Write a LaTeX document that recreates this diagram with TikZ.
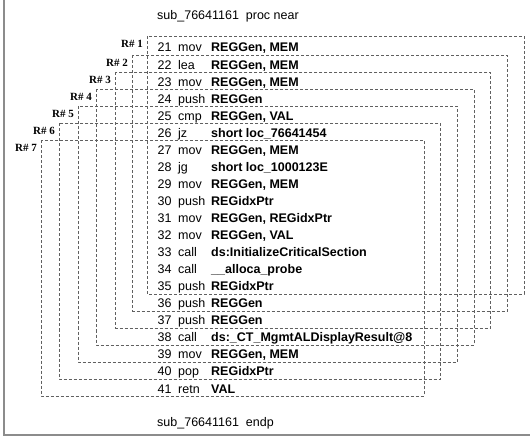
\documentclass[tikz,border=0pt]{standalone}
\usepackage{fontspec}
\setmainfont{Liberation Sans}
\newfontfamily\regfont{Liberation Serif}
\usetikzlibrary{calc}

\definecolor{framegray}{HTML}{8C8C8C}
\definecolor{dashgray}{HTML}{606060}

\tikzset{
    regbox/.style={
        draw=dashgray, line width=0.8pt,
        dash pattern=on 3pt off 2pt
    },
    reglabel/.style={
        font=\regfont\bfseries\fontsize{11}{12}\selectfont,
        inner sep=0pt, anchor=base east
    },
    asmline/.style={
        font=\fontsize{12.5}{15}\selectfont,
        inner sep=0pt, anchor=base west
    },
    frameline/.style={
        draw=framegray, line width=1.7pt
    },
}

\begin{document}
\begin{tikzpicture}[x=1pt, y=-1pt]
    \useasboundingbox (0,0) rectangle (530,438);

    % frame (left and bottom edges only)
    \coordinate (ftop) at (3.7,0);
    \coordinate (fcorner) at (3.7,435.2);
    \coordinate (fright) at (530,435.2);
    \draw[frameline] (ftop) -- (fcorner) -- (fright);

    \node[asmline] (head) at (157,19.5) {sub\_76641161\ \ proc near};
    \node[asmline] (tail) at (157,426.5) {sub\_76641161\ \ endp};

    % instruction rows
    \foreach \n/\mnem/\opd [count=\i from 0] in {
        21/mov/{REGGen, MEM},
        22/lea/{REGGen, MEM},
        23/mov/{REGGen, MEM},
        24/push/{REGGen},
        25/cmp/{REGGen, VAL},
        26/jz/{short loc\_76641454},
        27/mov/{REGGen, MEM},
        28/jg/{short loc\_1000123E},
        29/mov/{REGGen, MEM},
        30/push/{REGidxPtr},
        31/mov/{REGGen, REGidxPtr},
        32/mov/{REGGen, VAL},
        33/call/{ds:InitializeCriticalSection},
        34/call/{\_\_alloca\_probe},
        35/push/{REGidxPtr},
        36/push/{REGGen},
        37/push/{REGGen},
        38/call/{ds:\_CT\_MgmtALDisplayResult@8},
        39/mov/{REGGen, MEM},
        40/pop/{REGidxPtr},
        41/retn/{VAL}}
        \node[asmline] (row\n) at (157.5,52+17.05*\i)
            {\makebox[20.5pt][l]{\n}\makebox[33pt][l]{\mnem}\textbf{\opd}};

    % register live ranges
    \foreach \k/\l/\t/\b in {1/147/36/294, 2/132/55.5/311, 3/115/72.5/328,
                             4/96/89.5/345, 5/78/106.5/362, 6/59/123.5/379,
                             7/41/140.5/396} {
        \draw[regbox] (\l,\t) coordinate (rtop\k) rectangle (524-16.67*\k+16.67,\b) coordinate (rbot\k);
        \node[reglabel] (rlab\k) at ($(rtop\k)+(-4,11.5)$) {R\# \k};
    }
\end{tikzpicture}
\end{document}
